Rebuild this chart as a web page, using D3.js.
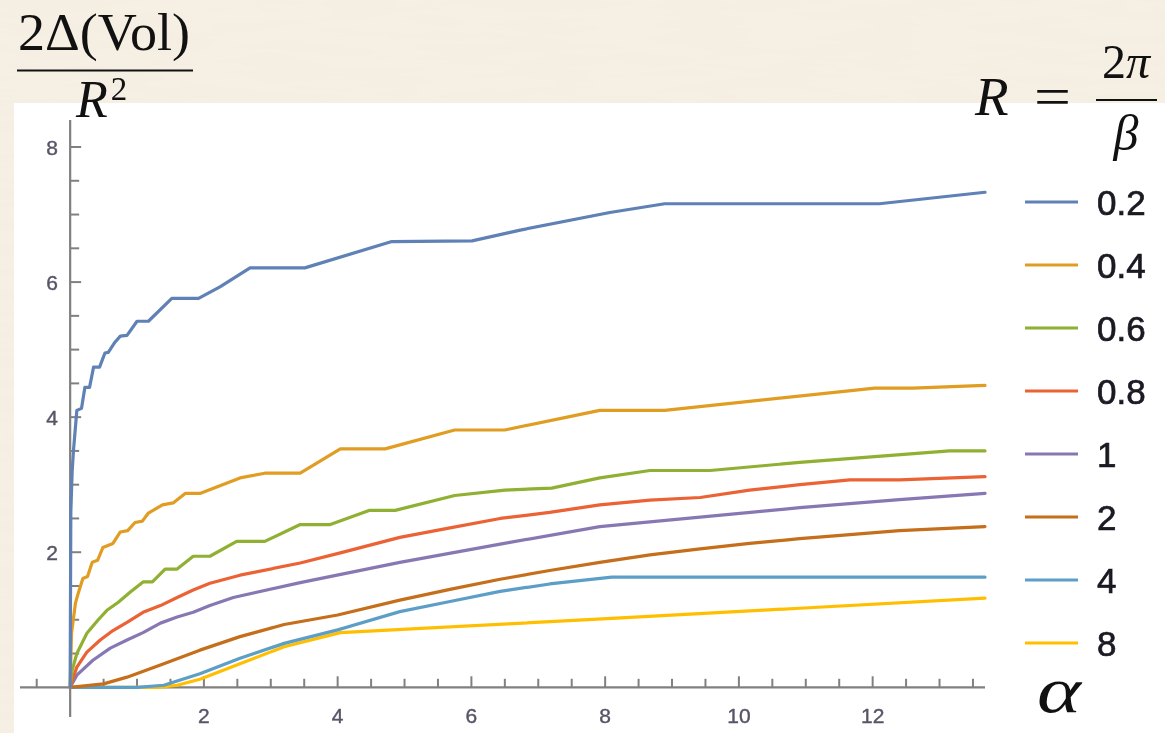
<!DOCTYPE html>
<html>
<head>
<meta charset="utf-8">
<script src="https://cdn.jsdelivr.net/npm/d3@7"></script>
<style>
  html, body { margin: 0; padding: 0; background: #f4ece0; }
  svg { display: block; }
</style>
</head>
<body>
<svg id="chart" width="1165" height="733"></svg>
<script>
// Series: alpha -> 2Δ(Vol)/R² for each radius R = 2π/β
const radii = ["0.2", "0.4", "0.6", "0.8", "1", "2", "4", "8"];
const colors = ["#5e81b5", "#e19c24", "#8fb032", "#eb6235", "#8778b3", "#c56e1a", "#5d9ec7", "#ffbf00"];

const r02 = [[0,0],[0.01,2.6],[0.03,3.2],[0.05,3.51],[0.10,4.10],[0.17,4.13],[0.22,4.44],[0.29,4.44],[0.35,4.74],[0.44,4.74],
  [0.52,4.95],[0.57,4.96],[0.67,5.11],[0.75,5.20],[0.85,5.21],[1.0,5.42],[1.17,5.42],[1.52,5.76],[1.92,5.76],[2.24,5.93],
  [2.69,6.21],[3.51,6.21],[4.81,6.60],[6.01,6.61],[6.73,6.77],[8.07,7.03],[8.89,7.16],[12.1,7.16],[13.68,7.33]];
const r04 = [[0,0],[0.02,0.8],[0.045,0.99],[0.08,1.25],[0.12,1.39],[0.19,1.61],[0.26,1.64],[0.33,1.85],[0.41,1.88],[0.49,2.07],
  [0.64,2.13],[0.75,2.30],[0.86,2.32],[0.97,2.44],[1.08,2.46],[1.17,2.58],[1.38,2.70],[1.54,2.73],[1.72,2.87],[1.94,2.87],
  [2.54,3.10],[2.91,3.17],[3.44,3.17],[4.04,3.53],[4.71,3.53],[5.75,3.81],[6.5,3.81],[7.92,4.10],[8.89,4.10],[12.03,4.43],
  [12.6,4.43],[13.68,4.47]];
const r06 = [[0,0],[0.03,0.25],[0.1,0.5],[0.25,0.8],[0.42,1.0],[0.55,1.14],[0.72,1.26],[0.9,1.41],[1.09,1.56],[1.23,1.56],
  [1.42,1.75],[1.6,1.75],[1.84,1.94],[2.09,1.94],[2.49,2.16],[2.91,2.16],[3.44,2.41],[3.89,2.41],[4.48,2.62],[4.86,2.62],
  [5.75,2.84],[6.5,2.92],[7.2,2.95],[7.92,3.10],[8.67,3.21],[9.57,3.21],[10.91,3.33],[13.15,3.50],[13.68,3.50]];
const r08 = [[0,0],[0.1,0.3],[0.25,0.52],[0.45,0.70],[0.64,0.84],[0.85,0.96],[1.09,1.11],[1.35,1.21],[1.6,1.33],[1.84,1.44],
  [2.09,1.54],[2.54,1.66],[3.44,1.84],[4.04,1.99],[4.93,2.22],[5.68,2.36],[6.43,2.50],[7.17,2.59],[7.92,2.70],[8.67,2.77],
  [9.42,2.81],[10.16,2.92],[10.91,3.00],[11.66,3.07],[12.4,3.07],[13.68,3.12]];
const r1 = [[0,0],[0.1,0.18],[0.34,0.40],[0.6,0.58],[0.85,0.70],[1.09,0.81],[1.35,0.95],[1.6,1.04],[1.84,1.11],[2.09,1.21],
  [2.44,1.33],[3.44,1.55],[4.93,1.85],[6.43,2.12],[7.92,2.38],[9.42,2.52],[10.91,2.66],[12.4,2.78],[13.68,2.87]];
const r2 = [[0,0],[0.5,0.05],[0.85,0.15],[1.35,0.33],[1.94,0.55],[2.54,0.75],[3.2,0.93],[4.0,1.07],[4.93,1.29],[5.68,1.45],
  [6.43,1.60],[7.17,1.73],[7.92,1.85],[8.67,1.96],[9.42,2.05],[10.16,2.13],[10.91,2.20],[11.66,2.26],[12.4,2.32],[13.68,2.38]];
const r4 = [[0,0],[1.0,0],[1.4,0.03],[1.94,0.20],[2.54,0.43],[3.2,0.65],[4.0,0.85],[4.93,1.12],[5.68,1.27],[6.43,1.42],
  [7.17,1.53],[8.1,1.63],[13.68,1.63]];
const r8 = [[0,0],[1.35,0],[1.6,0.03],[1.94,0.12],[2.54,0.35],[3.2,0.60],[4.04,0.81],[8.1,1.02],[10.91,1.17],[13.68,1.32]];
const seriesData = [r02, r04, r06, r08, r1, r2, r4, r8];

const xTickLabels = [2, 4, 6, 8, 10, 12];
const yTickLabels = [2, 4, 6, 8];

const svg = d3.select("#chart");

// textured paper backdrop
const defs = svg.append("defs");
const paper = defs.append("filter").attr("id", "paper").attr("x", 0).attr("y", 0).attr("width", "100%").attr("height", "100%");
paper.append("feTurbulence").attr("type", "fractalNoise").attr("baseFrequency", "0.012 0.09").attr("numOctaves", 3).attr("seed", 4).attr("result", "noise");
paper.append("feColorMatrix").attr("in", "noise").attr("type", "matrix")
  .attr("values", "0 0 0 0 0.93  0 0 0 0 0.89  0 0 0 0 0.82  0 0 0 0.35 0").attr("result", "tint");
paper.append("feComposite").attr("in", "tint").attr("in2", "SourceGraphic").attr("operator", "over");
const soft = defs.append("filter").attr("id", "soft");
soft.append("feGaussianBlur").attr("stdDeviation", 0.55);

svg.append("rect").attr("width", 1165).attr("height", 733).attr("fill", "#f5eee2").attr("filter", "url(#paper)");
svg.append("rect").attr("x", 14).attr("y", 103).attr("width", 1151).attr("height", 630).attr("fill", "#ffffff");

const x = d3.scaleLinear().domain([-0.75, 13.68]).range([20, 985]);
const y = d3.scaleLinear().domain([-0.44, 8.4]).range([717, 120]);

const g = svg.append("g").attr("filter", "url(#soft)");
const axisColor = "#808080";

// axes
g.append("line").attr("x1", x(-0.75)).attr("x2", x(13.68)).attr("y1", y(0)).attr("y2", y(0))
  .attr("stroke", axisColor).attr("stroke-width", 2.2);
g.append("line").attr("x1", x(0)).attr("x2", x(0)).attr("y1", y(-0.44)).attr("y2", y(8.4))
  .attr("stroke", axisColor).attr("stroke-width", 2.2);

const xTicks = d3.range(-0.5, 13.51, 0.5).filter(v => v !== 0);
g.selectAll(".xt").data(xTicks).join("line")
  .attr("x1", d => x(d)).attr("x2", d => x(d))
  .attr("y1", y(0)).attr("y2", d => y(0) - (d % 2 === 0 ? 11 : 8.5))
  .attr("stroke", axisColor).attr("stroke-width", 2);
const yTicks = d3.range(0.5, 8.01, 0.5);
g.selectAll(".yt").data(yTicks).join("line")
  .attr("x1", x(0)).attr("x2", d => x(0) + (d % 2 === 0 ? 11 : 9))
  .attr("y1", d => y(d)).attr("y2", d => y(d))
  .attr("stroke", axisColor).attr("stroke-width", 2);

const tickFont = "'Liberation Sans', Arial, sans-serif";
g.selectAll(".xl").data(xTickLabels).join("text")
  .attr("x", d => x(d)).attr("y", 723).attr("text-anchor", "middle")
  .attr("font-family", tickFont).attr("font-size", 21).attr("fill", "#555566")
  .attr("stroke", "#555566").attr("stroke-width", 0.4).text(d => d);
g.selectAll(".yl").data(yTickLabels).join("text")
  .attr("x", 58).attr("y", d => y(d) + 7.5).attr("text-anchor", "end")
  .attr("font-family", tickFont).attr("font-size", 21).attr("fill", "#555566")
  .attr("stroke", "#555566").attr("stroke-width", 0.4).text(d => d);

// curves
const line = d3.line().x(d => x(d[0])).y(d => y(d[1]));
g.selectAll(".curve").data(seriesData.map((d, i) => ({ d, i })).reverse()).join("path")
  .attr("d", s => line(s.d)).attr("fill", "none")
  .attr("stroke", s => colors[s.i]).attr("stroke-width", 3.2)
  .attr("stroke-linejoin", "round").attr("stroke-linecap", "round");

// legend
const legendY = d3.scalePoint().domain(radii).range([202, 643]);
const leg = g.selectAll(".leg").data(radii).join("g").attr("transform", d => `translate(0,${legendY(d)})`);
leg.append("line").attr("x1", 1025).attr("x2", 1078).attr("y1", 0).attr("y2", 0)
  .attr("stroke", (d, i) => colors[i]).attr("stroke-width", 3.2);
leg.append("text").attr("x", 1097).attr("y", 12.5).attr("font-family", tickFont).attr("font-size", 35)
  .attr("fill", "#1a1a22").attr("stroke", "#1a1a22").attr("stroke-width", 0.7).text(d => d);

// math labels
const serif = "'Liberation Serif', 'Times New Roman', serif";
const tl = svg.append("g").attr("font-family", serif).attr("fill", "#111");
tl.append("text").attr("x", 104).attr("y", 50).attr("text-anchor", "middle").attr("font-size", 53)
  .attr("textLength", 172).attr("lengthAdjust", "spacingAndGlyphs").text("2Δ(Vol)");
tl.append("line").attr("x1", 17).attr("x2", 193).attr("y1", 70.5).attr("y2", 70.5).attr("stroke", "#111").attr("stroke-width", 2.2);
const den = tl.append("text").attr("x", 76).attr("y", 117).attr("font-size", 52);
den.append("tspan").attr("font-style", "italic").text("R");
den.append("tspan").attr("font-size", 33).attr("dx", 3).attr("dy", -17).text("2");

tl.append("text").attr("x", 975).attr("y", 115).attr("font-size", 55).attr("font-style", "italic").text("R");
tl.append("text").attr("x", 1034).attr("y", 115).attr("font-size", 55)
  .attr("textLength", 37).attr("lengthAdjust", "spacingAndGlyphs").text("=");
tl.append("line").attr("x1", 1096).attr("x2", 1157).attr("y1", 100).attr("y2", 100).attr("stroke", "#111").attr("stroke-width", 2.2);
const num2 = tl.append("text").attr("x", 1126).attr("y", 78).attr("text-anchor", "middle").attr("font-size", 48);
num2.append("tspan").text("2");
num2.append("tspan").attr("font-style", "italic").text("π");
tl.append("text").attr("x", 1126).attr("y", 150).attr("text-anchor", "middle").attr("font-size", 50).attr("font-style", "italic").text("β");
tl.append("text").attr("x", 1037).attr("y", 712).attr("font-size", 66).attr("font-style", "italic")
  .attr("textLength", 44).attr("lengthAdjust", "spacingAndGlyphs").text("α");
</script>
</body>
</html>
